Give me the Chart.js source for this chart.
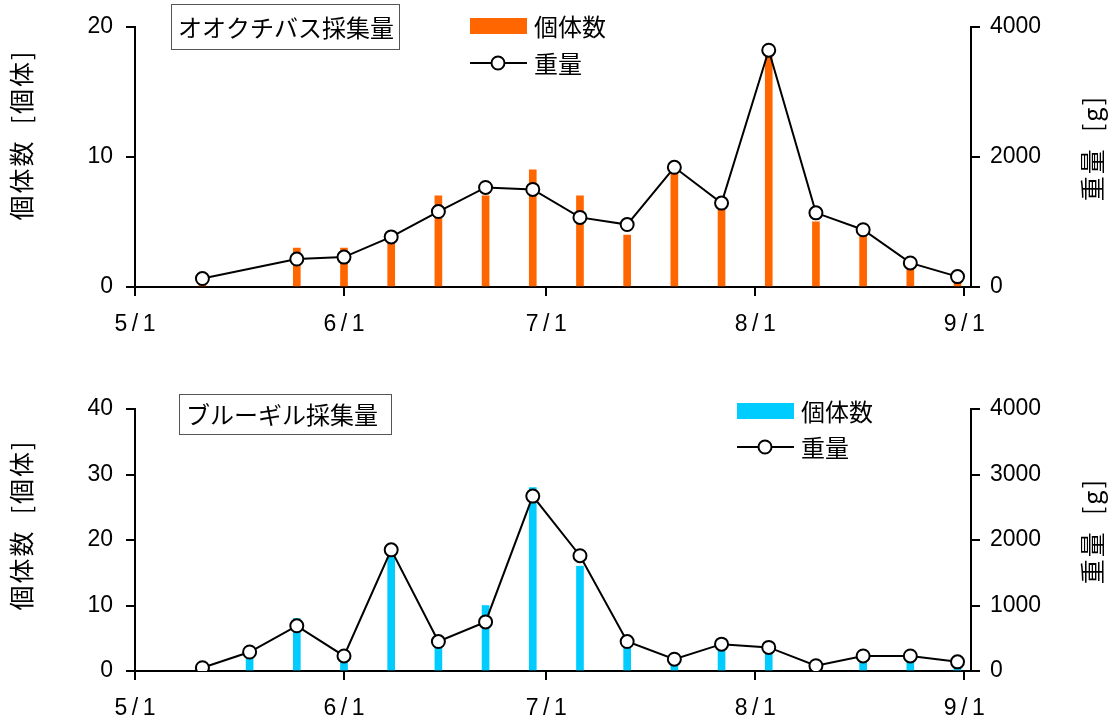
<!DOCTYPE html>
<html>
<head>
<meta charset="utf-8">
<script src="https://cdn.jsdelivr.net/npm/chart.js@4.4.1/dist/chart.umd.min.js"></script>
<style>
  html, body { margin: 0; padding: 0; background: #fff; }
  canvas { display: block; }
</style>
</head>
<body>
<canvas id="bassChart" width="1112" height="362"></canvas>
<canvas id="gillChart" width="1112" height="362"></canvas>
<script>
// x axis tick labels (month starts)
const xTickDates = ['5/1', '6/1', '7/1', '8/1', '9/1'];

// オオクチバス (largemouth bass)
const bassDates = ['5/11', '5/25', '6/1', '6/8', '6/15', '6/22', '6/29', '7/6', '7/13', '7/20', '7/27', '8/3', '8/10', '8/17', '8/24', '8/31'];
const bassCount = [1, 3, 3, 4, 7, 7, 9, 7, 4, 9, 6, 18, 5, 4, 2, 1];
const bassWeight = [130, 430, 460, 770, 1160, 1530, 1500, 1070, 960, 1840, 1290, 3640, 1140, 880, 370, 160];

// ブルーギル (bluegill)
const gillDates = ['5/11', '5/18', '5/25', '6/1', '6/8', '6/15', '6/22', '6/29', '7/6', '7/13', '7/20', '7/27', '8/3', '8/10', '8/17', '8/24', '8/31'];
const gillCount = [0, 2, 8, 2, 18, 4, 10, 28, 16, 4, 1, 4, 3, 0, 2, 2, 1];
const gillWeight = [50, 290, 690, 230, 1850, 450, 750, 2670, 1760, 450, 180, 410, 360, 80, 230, 230, 140];

// days since 5/1
const monthStart = { 5: 0, 6: 31, 7: 61, 8: 92, 9: 123 };
function dayOf(s) {
    const [m, d] = s.split('/').map(Number);
    return monthStart[m] + d - 1;
}

const tickFont = { family: '"Liberation Sans", Arial, sans-serif', size: 23 };
const jpFont = '"Noto Sans CJK JP", sans-serif';

// draws the boxed title, the legend and the rotated axis titles
const panelDecor = {
    id: 'panelDecor',
    afterDraw(chart, args, o) {
        const ctx = chart.ctx;
        ctx.save();
        ctx.fillStyle = '#000';

        // title box
        ctx.font = '24px ' + jpFont;
        ctx.textBaseline = 'middle';
        ctx.textAlign = 'left';
        ctx.strokeStyle = '#555';
        ctx.lineWidth = 1;
        ctx.fillStyle = '#fff';
        ctx.fillRect(o.box[0], o.box[1], o.box[2], o.box[3]);
        ctx.strokeRect(o.box[0] + 0.5, o.box[1] + 0.5, o.box[2], o.box[3]);
        ctx.fillStyle = '#000';
        ctx.fillText(o.title, o.box[0] + 7, o.box[1] + o.box[3] / 2 + 1);

        // legend
        const ds = chart.data.datasets;
        const lx = o.legend[0], ly = o.legend[1];
        ctx.fillStyle = ds[0].backgroundColor;
        ctx.fillRect(lx, ly - 8, 57, 16);
        ctx.fillStyle = '#000';
        ctx.fillText(ds[0].label, lx + 64, ly + 1);
        const ly2 = ly + o.rowGap;
        ctx.strokeStyle = '#000';
        ctx.lineWidth = 2;
        ctx.beginPath();
        ctx.moveTo(lx, ly2);
        ctx.lineTo(lx + 57, ly2);
        ctx.stroke();
        ctx.beginPath();
        ctx.arc(lx + 28, ly2, 6.5, 0, Math.PI * 2);
        ctx.fillStyle = '#fff';
        ctx.fill();
        ctx.stroke();
        ctx.fillStyle = '#000';
        ctx.fillText(ds[1].label, lx + 64, ly2 + 1);

        // axis titles, reading bottom to top
        ctx.font = '25px ' + jpFont;
        ctx.letterSpacing = '2px';
        ctx.textAlign = 'center';
        [[o.yTitle, 21, o.yTitleY], [o.y2Title, 1092, o.y2TitleY]].forEach(([t, x, y]) => {
            ctx.save();
            ctx.translate(x, y);
            ctx.rotate(-Math.PI / 2);
            ctx.fillText(t, 0, 0);
            ctx.restore();
        });
        ctx.restore();
    }
};

function makePanel(canvasId, dates, counts, weights, barColor, countMax, countStep, weightStep, deco, padTop, xHeight) {
    const ctx = document.getElementById(canvasId).getContext('2d');
    return new Chart(ctx, {
        type: 'bar',
        data: {
            datasets: [{
                type: 'bar',
                label: '個体数',
                data: dates.map((d, i) => ({ x: dayOf(d), y: counts[i] })),
                backgroundColor: barColor,
                barThickness: 7,
                yAxisID: 'y',
                order: 2
            }, {
                type: 'line',
                label: '重量',
                data: dates.map((d, i) => ({ x: dayOf(d), y: weights[i] })),
                borderColor: '#000',
                borderWidth: 2,
                pointRadius: 6.5,
                pointBackgroundColor: '#fff',
                pointBorderColor: '#000',
                pointBorderWidth: 2,
                tension: 0,
                yAxisID: 'y2',
                order: 1
            }]
        },
        options: {
            responsive: false,
            animation: false,
            layout: { padding: { top: padTop, left: 0, right: 0, bottom: 0 } },
            scales: {
                x: {
                    type: 'linear',
                    min: 0,
                    max: 124,
                    offset: false,
                    afterBuildTicks: s => { s.ticks = xTickDates.map(d => ({ value: dayOf(d) })); },
                    afterFit: s => { s.height = xHeight; },
                    ticks: {
                        autoSkip: false,
                        maxRotation: 0,
                        padding: 15,
                        color: '#000',
                        font: tickFont,
                        callback: v => {
                            const lab = xTickDates.find(d => dayOf(d) === v);
                            return lab ? lab.replace('/', '\u2009/\u2009') : '';
                        }
                    },
                    grid: { drawOnChartArea: false, color: '#000', lineWidth: 2, tickLength: 9, offset: false },
                    border: { color: '#000', width: 2 }
                },
                y: {
                    position: 'left',
                    min: 0,
                    max: countMax,
                    afterFit: s => { s.width = 135; },
                    ticks: { stepSize: countStep, padding: 13, color: '#000', font: tickFont },
                    grid: { drawOnChartArea: false, color: '#000', lineWidth: 2, tickLength: 9 },
                    border: { color: '#000', width: 2 }
                },
                y2: {
                    position: 'right',
                    min: 0,
                    max: 4000,
                    afterFit: s => { s.width = 141; },
                    ticks: { stepSize: weightStep, padding: 10, color: '#000', font: tickFont, callback: v => String(v) },
                    grid: { drawOnChartArea: false, color: '#000', lineWidth: 2, tickLength: 9 },
                    border: { color: '#000', width: 2 }
                }
            },
            plugins: {
                legend: { display: false },
                tooltip: { enabled: false },
                panelDecor: deco
            }
        },
        plugins: [panelDecor]
    });
}

makePanel('bassChart', bassDates, bassCount, bassWeight, '#FF6600', 20, 10, 2000, {
    title: 'オオクチバス採集量',
    box: [171, 4, 228, 45],
    legend: [470, 26],
    rowGap: 37,
    yTitle: '個体数  [個体]', yTitleY: 135,
    y2Title: '重量  [g]', y2TitleY: 148
}, 26, 75);

makePanel('gillChart', gillDates, gillCount, gillWeight, '#00CCFF', 40, 10, 1000, {
    title: 'ブルーギル採集量',
    box: [179, 32, 212, 40],
    legend: [737, 49],
    rowGap: 36,
    yTitle: '個体数  [個体]', yTitleY: 163,
    y2Title: '重量  [g]', y2TitleY: 169
}, 47, 53);
</script>
</body>
</html>
